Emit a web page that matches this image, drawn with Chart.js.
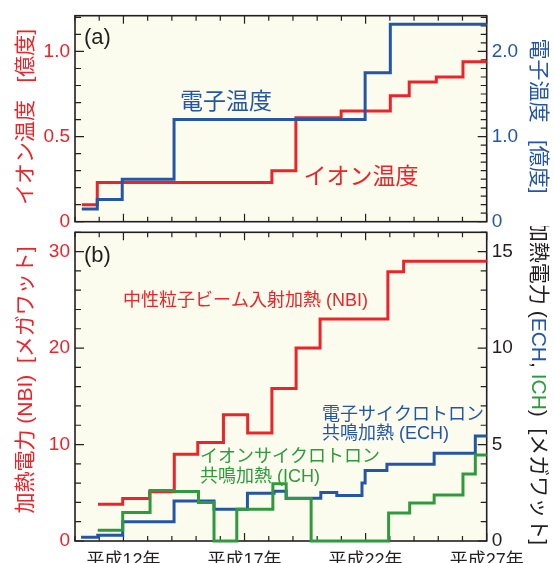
<!DOCTYPE html>
<html>
<head>
<meta charset="utf-8">
<script src="https://cdn.jsdelivr.net/npm/chart.js@4.4.0/dist/chart.umd.min.js"></script>
<style>
  body { margin: 0; background: #fff; width: 554px; height: 563px; position: relative; overflow: hidden; }
  canvas { position: absolute; left: 0; }
  #topChart { top: 0; }
  #botChart { top: 226px; }
</style>
</head>
<body>
<canvas id="topChart" width="554" height="232"></canvas>
<canvas id="botChart" width="554" height="337"></canvas>
<script>
// years (平成) where each step begins, and the value held until the next step
const ionYear = [10.28, 10.92, 18.13, 19.12, 20.99, 23.02, 23.8, 24.92, 26.02, 27];
const ionTemp = [0.10, 0.23, 0.30, 0.61, 0.65, 0.74, 0.82, 0.85, 0.94, 0.94];
const eleYear = [10.28, 10.92, 11.95, 14.09, 21.98, 23.02, 27];
const eleTemp = [0.15, 0.26, 0.50, 1.20, 1.75, 2.32, 2.32];

const nbiYear = [10.95, 11.97, 13.08, 14.1, 15.07, 16.13, 17.13, 18.13, 19.13, 20.12, 22.92, 23.57, 27];
const nbiPower = [3.8, 4.4, 5.1, 9.0, 10.2, 13.1, 11.2, 15.8, 20.0, 23.0, 27.9, 29.0, 29.0];
const echYear = [10.25, 10.94, 11.97, 14.09, 15.74, 17.12, 18.22, 18.72, 20.15, 20.81, 21.85, 21.98, 22.88, 24.83, 26.53, 27];
const echPower = [0.2, 0.3, 1.0, 2.07, 1.65, 2.47, 2.58, 2.22, 2.52, 2.36, 3.0, 3.66, 3.98, 4.55, 5.44, 5.44];
const ichYear = [10.94, 11.97, 13.1, 14.09, 15.1, 15.74, 16.68, 18.17, 18.72, 19.75, 22.95, 23.82, 24.83, 26.02, 26.53, 27];
const ichPower = [0.56, 1.48, 2.62, 2.56, 2.0, 0, 1.64, 2.97, 2.2, 0, 1.45, 1.97, 2.38, 3.47, 4.46, 4.46];

// ticks
const yearTicks = [10, 11, 12, 13, 14, 15, 16, 17, 18, 19, 20, 21, 22, 23, 24, 25, 26, 27];
const yearLabels = [12, 17, 22, 27];
const ionTicks = [0, 0.1, 0.2, 0.3, 0.4, 0.5, 0.6, 0.7, 0.8, 0.9, 1, 1.1, 1.2];
const ionLabels = [0, 0.5, 1];
const eleTicks = [0, 0.1, 0.2, 0.3, 0.4, 0.5, 0.6, 0.7, 0.8, 0.9, 1, 1.1, 1.2, 1.3, 1.4, 1.5, 1.6, 1.7, 1.8, 1.9, 2, 2.1, 2.2, 2.3, 2.4];
const eleLabels = [0, 1, 2];
const nbiTicks = [0, 2, 4, 6, 8, 10, 12, 14, 16, 18, 20, 22, 24, 26, 28, 30, 32];
const nbiLabels = [0, 10, 20, 30];
const rfTicks = [0, 1, 2, 3, 4, 5, 6, 7, 8, 9, 10, 11, 12, 13, 14, 15, 16];
const rfLabels = [0, 5, 10, 15];

const RED = "#ec2328", BLUE = "#2556a6", GREEN = "#2f9a3d", INK = "#231f20", BG = "#fcfcee";
const FONT = "'Liberation Sans', 'Noto Sans CJK JP', sans-serif";
Chart.defaults.font.family = FONT;

function stepSet(xs, ys, color, axis) {
  return {
    data: xs.map((x, i) => ({ x: x, y: ys[i] })),
    borderColor: color, borderWidth: 3, pointRadius: 0, stepped: true,
    fill: false, yAxisID: axis, clip: 4,
    borderJoinStyle: "miter", borderCapStyle: "butt"
  };
}

function yScale(pos, max, ticks, labels, color, width, fmt) {
  return {
    type: "linear", position: pos, min: 0, max: max,
    grid: { display: false, drawTicks: false },
    border: { display: false },
    afterBuildTicks: s => { s.ticks = ticks.map(v => ({ value: v })); },
    afterFit: s => { s.width = width; s.paddingTop = 0; s.paddingBottom = 0; },
    ticks: {
      color: color, font: { size: 19 }, padding: 5, autoSkip: false,
      callback: v => labels.includes(v) ? fmt(v) : ""
    },
    majors: labels
  };
}

function xScale(height, showLabels) {
  return {
    type: "linear", min: 10, max: 27,
    grid: { display: false, drawTicks: false },
    border: { display: false },
    afterBuildTicks: s => { s.ticks = yearTicks.map(v => ({ value: v })); },
    afterFit: s => { s.height = height; s.paddingLeft = 0; s.paddingRight = 0; },
    ticks: {
      display: showLabels, autoSkip: false, maxRotation: 0, padding: 9,
      color: INK, font: { size: 18 },
      callback: v => yearLabels.includes(v) ? "平成" + v + "年" : ""
    },
    majors: yearLabels
  };
}

function drawRich(ctx, parts, cx, cy, rot, size) {
  ctx.save();
  ctx.translate(cx, cy);
  ctx.rotate(rot);
  ctx.font = size + "px " + FONT;
  ctx.textBaseline = "middle";
  ctx.textAlign = "left";
  let total = 0;
  parts.forEach(p => { total += ctx.measureText(p[0]).width; });
  let x = -total / 2;
  parts.forEach(p => {
    ctx.fillStyle = p[1];
    ctx.fillText(p[0], x, 0);
    x += ctx.measureText(p[0]).width;
  });
  ctx.restore();
}

const framePlugin = {
  id: "frame",
  beforeDraw(chart) {
    const a = chart.chartArea, ctx = chart.ctx;
    ctx.save();
    ctx.fillStyle = BG;
    ctx.fillRect(a.left, a.top, a.right - a.left, a.bottom - a.top);
    ctx.restore();
  },
  beforeDatasetsDraw(chart) {
    const a = chart.chartArea, ctx = chart.ctx;
    ctx.save();
    ctx.strokeStyle = INK;
    ctx.lineWidth = 1.2;
    ctx.beginPath();
    const xs = chart.scales.x;
    xs.ticks.forEach(t => {
      const px = xs.getPixelForValue(t.value);
      const len = xs.options.majors.includes(t.value) ? 8 : 5;
      ctx.moveTo(px, a.bottom); ctx.lineTo(px, a.bottom - len);
      ctx.moveTo(px, a.top); ctx.lineTo(px, a.top + len);
    });
    ["yL", "yR"].forEach(id => {
      const s = chart.scales[id];
      const edge = id === "yL" ? a.left : a.right;
      const dir = id === "yL" ? 1 : -1;
      s.ticks.forEach(t => {
        const py = s.getPixelForValue(t.value);
        const len = s.options.majors.includes(t.value) ? 9 : 6;
        ctx.moveTo(edge, py); ctx.lineTo(edge + dir * len, py);
      });
    });
    ctx.stroke();
    ctx.lineWidth = 1.6;
    ctx.strokeRect(a.left, a.top, a.right - a.left, a.bottom - a.top);
    ctx.restore();
  },
  afterDraw(chart, args, opts) {
    const ctx = chart.ctx;
    (opts.texts || []).forEach(t => {
      ctx.save();
      ctx.font = t.size + "px " + FONT;
      ctx.fillStyle = t.color;
      ctx.textAlign = t.align || "left";
      ctx.textBaseline = "middle";
      ctx.fillText(t.text, t.x, t.y - opts.offset);
      ctx.restore();
    });
    (opts.titles || []).forEach(t => {
      drawRich(ctx, t.parts, t.x, t.y - opts.offset, t.rot, t.size);
    });
  }
};

const baseOpts = {
  responsive: false, animation: false,
  plugins: { legend: { display: false }, tooltip: { enabled: false } }
};

new Chart(document.getElementById("topChart"), {
  type: "line",
  data: {
    datasets: [
      stepSet(eleYear, eleTemp, BLUE, "yR"),
      stepSet(ionYear, ionTemp, RED, "yL")
    ]
  },
  options: Object.assign({}, baseOpts, {
    layout: { padding: { top: 15.7, left: 0, right: 0, bottom: 0 } },
    scales: {
      x: xScale(10.3, false),
      yL: yScale("left", 1.21, ionTicks, ionLabels, RED, 75, v => v === 0 ? "0" : v.toFixed(1)),
      yR: yScale("right", 2.42, eleTicks, eleLabels, BLUE, 67.3, v => v === 0 ? "0" : v.toFixed(1))
    },
    plugins: Object.assign({}, baseOpts.plugins, {
      frame: {
        offset: 0,
        texts: [
          { text: "(a)", x: 84, y: 38, size: 22, color: INK },
          { text: "電子温度", x: 226, y: 103, size: 23, color: BLUE, align: "center" },
          { text: "イオン温度", x: 361, y: 178, size: 23, color: RED, align: "center" }
        ],
        titles: [
          { parts: [["イオン温度   [億度]", RED]], x: 26, y: 117, rot: -Math.PI / 2, size: 21 },
          { parts: [["電子温度   [億度]", BLUE]], x: 538, y: 116, rot: Math.PI / 2, size: 21 }
        ]
      }
    })
  }),
  plugins: [framePlugin]
});

new Chart(document.getElementById("botChart"), {
  type: "line",
  data: {
    datasets: [
      stepSet(ichYear, ichPower, GREEN, "yR"),
      stepSet(echYear, echPower, BLUE, "yR"),
      stepSet(nbiYear, nbiPower, RED, "yL")
    ]
  },
  options: Object.assign({}, baseOpts, {
    layout: { padding: { top: 6.3, left: 0, right: 0, bottom: 0 } },
    scales: {
      x: xScale(22, true),
      yL: yScale("left", 32, nbiTicks, nbiLabels, RED, 75, v => String(v)),
      yR: yScale("right", 16, rfTicks, rfLabels, INK, 67.3, v => String(v))
    },
    plugins: Object.assign({}, baseOpts.plugins, {
      frame: {
        offset: 226,
        texts: [
          { text: "(b)", x: 84, y: 256, size: 22, color: INK },
          { text: "中性粒子ビーム入射加熱 (NBI)", x: 123, y: 301, size: 18, color: RED },
          { text: "電子サイクロトロン", x: 322, y: 415, size: 18, color: BLUE },
          { text: "共鳴加熱 (ECH)", x: 322, y: 434, size: 18, color: BLUE },
          { text: "イオンサイクロトロン", x: 200, y: 457, size: 18, color: GREEN },
          { text: "共鳴加熱 (ICH)", x: 200, y: 477, size: 18, color: GREEN }
        ],
        titles: [
          { parts: [["加熱電力 (NBI)  [メガワット]", RED]], x: 26, y: 380, rot: -Math.PI / 2, size: 21 },
          { parts: [["加熱電力 (", INK], ["ECH", BLUE], [", ", INK], ["ICH", GREEN], [")  [メガワット]", INK]],
            x: 538, y: 383, rot: Math.PI / 2, size: 21 }
        ]
      }
    })
  }),
  plugins: [framePlugin]
});
</script>
</body>
</html>
